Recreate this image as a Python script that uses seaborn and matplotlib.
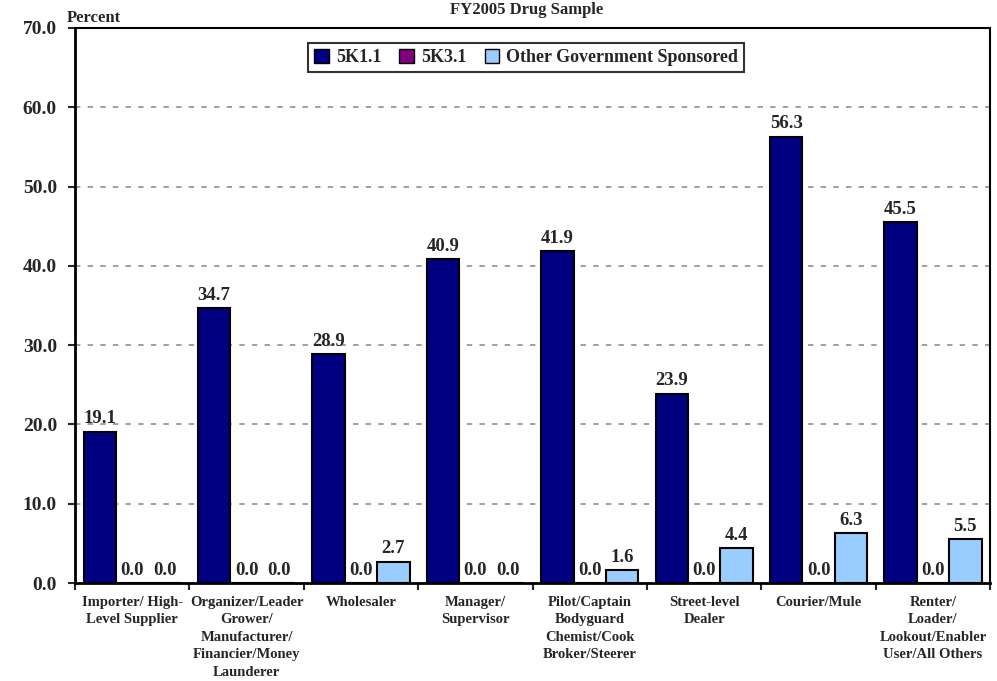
import matplotlib
matplotlib.use("Agg")
import matplotlib.pyplot as plt
import numpy as np
import pandas as pd
import seaborn as sns

# ---------------------------------------------------------------------------
# DATA
# ---------------------------------------------------------------------------
CATEGORIES = [
    "Importer/ High-\nLevel Supplier",
    "Organizer/Leader\nGrower/\nManufacturer/\nFinancier/Money\nLaunderer",
    "Wholesaler",
    "Manager/\nSupervisor",
    "Pilot/Captain\nBodyguard\nChemist/Cook\nBroker/Steerer",
    "Street-level\nDealer",
    "Courier/Mule",
    "Renter/\nLoader/\nLookout/Enabler\nUser/All Others",
]
SERIES = ["5K1.1", "5K3.1", "Other Government Sponsored"]
K1_1 = [19.1, 34.7, 28.9, 40.9, 41.9, 23.9, 56.3, 45.5]
K3_1 = [0.0, 0.0, 0.0, 0.0, 0.0, 0.0, 0.0, 0.0]
OTHER_GOV = [0.0, 0.0, 2.7, 0.0, 1.6, 4.4, 6.3, 5.5]

COLORS = ["#000080", "#800080", "#99CCFF"]

df = pd.DataFrame({
    "category": CATEGORIES * 3,
    "series": np.repeat(SERIES, len(CATEGORIES)),
    "percent": K1_1 + K3_1 + OTHER_GOV,
})

# ---------------------------------------------------------------------------
# STYLE
# ---------------------------------------------------------------------------
sns.set_style("white")
plt.rcParams["font.family"] = ["Liberation Serif", "DejaVu Serif"]
plt.rcParams["font.weight"] = "bold"

fig = plt.figure(figsize=(9.97, 6.81), dpi=100)
ax = fig.add_axes([0.0752, 0.1439, 0.918, 0.815])

sns.barplot(
    data=df, x="category", y="percent", hue="series",
    order=CATEGORIES, hue_order=SERIES, palette=COLORS,
    width=0.85, gap=0, edgecolor="black", linewidth=1.5,
    saturation=1, errorbar=None, ax=ax, zorder=3,
)

for cont in ax.containers:
    ax.bar_label(cont, fmt="%.1f", padding=3, fontsize=13.5,
                 fontweight="bold", zorder=4)

# axes
ax.set_xlim(-0.5, len(CATEGORIES) - 0.5)
ax.set_ylim(0, 70)
ax.set_yticks(np.arange(0, 71, 10))
ax.set_yticklabels([f"{v:.1f}" for v in np.arange(0, 71, 10)],
                   fontsize=14, fontweight="bold")
ax.set_xticks(range(len(CATEGORIES)))
ax.set_xticklabels(CATEGORIES, fontsize=10.5, fontweight="bold",
                   linespacing=1.45, va="top")
ax.set_xticks(np.arange(-0.5, len(CATEGORIES), 1), minor=True)
ax.tick_params(axis="x", which="major", length=0, pad=9)
ax.tick_params(axis="x", which="minor", length=5, width=1.5,
               direction="out", bottom=True)
ax.tick_params(axis="y", length=5, width=1.5, direction="out", left=True, pad=8)
ax.set_xlabel("")
ax.set_ylabel("")

for y in range(10, 70, 10):
    ax.axhline(y, color="#999999", lw=1.3, ls=(0, (3, 4)), zorder=1)

for side in ["left", "bottom"]:
    ax.spines[side].set_linewidth(2)
    ax.spines[side].set_color("black")
for side in ["top", "right"]:
    ax.spines[side].set_linewidth(1.5)
    ax.spines[side].set_color("black")

leg = ax.legend(
    loc="upper center", bbox_to_anchor=(0.493, 0.99), ncol=3,
    frameon=True, fancybox=False, edgecolor="black",
    handlelength=0.8, handleheight=0.8, handletextpad=0.4,
    columnspacing=1.0, borderpad=0.35,
    prop={"weight": "bold", "size": 13},
)
leg.get_frame().set_linewidth(1.5)
for h in leg.legend_handles:
    h.set_edgecolor("black")
    h.set_linewidth(1)

fig.text(0.528, 1 - 2 / 681, "FY2005 Drug Sample", ha="center", va="top",
         fontsize=12, fontweight="bold")
fig.text(67 / 997, 1 - 18 / 681, "Percent", ha="left", va="center",
         fontsize=12, fontweight="bold")

fig.savefig("out.png", dpi=100)
